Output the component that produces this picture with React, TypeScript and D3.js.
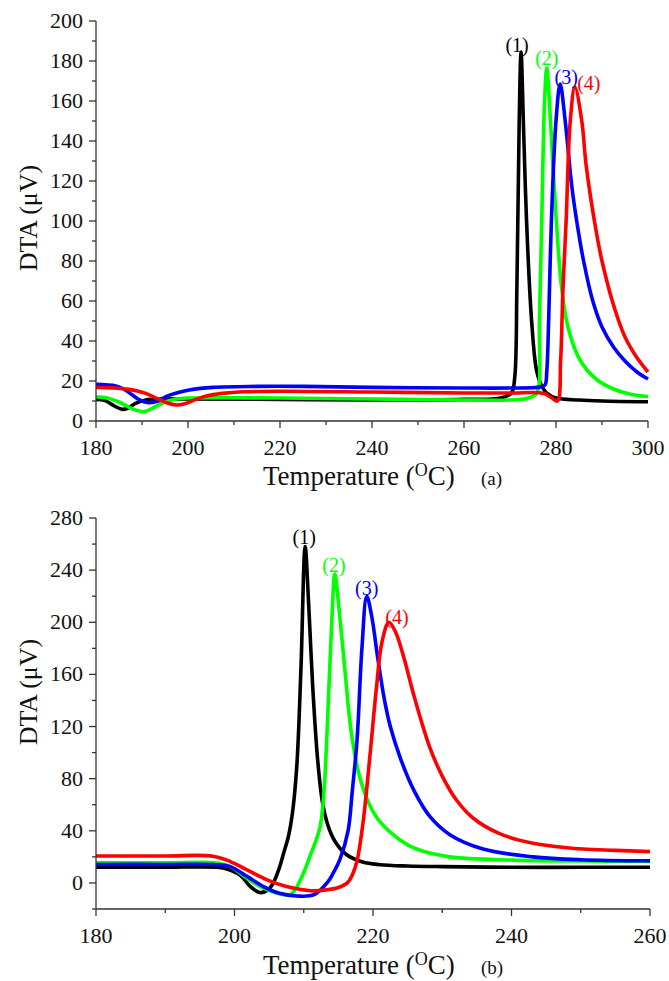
import React from 'react';
import * as d3 from 'd3';

// ---------- data ----------
const seriesLabels = ['(1)', '(2)', '(3)', '(4)'];
const seriesColors = ['#000000', '#00ff00', '#0000ff', '#ff0000'];

// panel (a) tick values
const tempMajorA = [180, 200, 220, 240, 260, 280, 300];
const tempMinorA = [190, 210, 230, 250, 270, 290];
const dtaMajorA = [0, 20, 40, 60, 80, 100, 120, 140, 160, 180, 200];
const dtaMinorA = [10, 30, 50, 70, 90, 110, 130, 150, 170, 190];

// panel (b) tick values
const tempMajorB = [180, 200, 220, 240, 260];
const tempMinorB = [190, 210, 230, 250];
const dtaMajorB = [0, 40, 80, 120, 160, 200, 240, 280];
const dtaMinorB = [-20, 20, 60, 100, 140, 180, 220, 260];

// panel (a) curves [temperature, DTA]
const curveA1: [number, number][] = [
  [180, 10.8], [182, 10.2], [184, 7.5], [185.7, 5.8], [187, 6.5], [188.6, 8.8], [190.8, 10.5],
  [194, 11], [200, 11], [220, 10.8], [240, 10.5], [260, 10.8], [268, 11.5], [270.3, 14],
  [271, 21], [271.5, 67], [272, 150], [272.4, 184.5], [272.9, 150], [273.6, 100], [274.7, 50],
  [275.8, 25], [277, 17], [278, 14], [280, 11.5], [285, 10.5], [290, 10], [300, 9.6],
];
const curveA2: [number, number][] = [
  [180, 12], [182, 11.8], [185, 9.5], [188, 6], [190.5, 4.7], [193, 7.3], [195, 9.5],
  [197.4, 11], [200, 11.5], [220, 11.5], [240, 11], [260, 10.5], [270, 10.5], [274, 11.5],
  [275.8, 14], [276.4, 50], [276.9, 100], [277.5, 159], [278, 176.5], [278.8, 150],
  [279.8, 110], [281.2, 67], [282.6, 47], [285.1, 31], [288.7, 21], [292.5, 16], [296, 13.5],
  [300, 12.2],
];
const curveA3: [number, number][] = [
  [180, 18.3], [184.3, 17.5], [186, 16], [187.9, 13], [189.5, 10.5], [191.5, 9.2], [193.5, 10],
  [195.2, 12.2], [197.5, 14], [200.3, 15.5], [205.4, 16.8], [215, 17.3], [225, 17.3], [240, 16.8],
  [260, 16.5], [270, 16.5], [276.5, 17], [277.6, 18], [278, 25], [278.4, 50], [279, 100],
  [280, 150], [280.9, 168.5], [282, 150], [283.4, 118], [284.5, 100], [286, 80], [288, 60],
  [290, 47], [292.5, 37], [295, 30], [297.6, 24.5], [300, 21],
];
const curveA4: [number, number][] = [
  [180, 16.8], [184, 16.5], [187.2, 15.8], [189, 15], [190.8, 13.8], [193.7, 10.8], [195.5, 9],
  [197.4, 8], [199.5, 8.8], [201.7, 10.8], [204, 12.5], [207.5, 13.8], [212, 14.6], [220, 14.9],
  [240, 14.5], [260, 14], [270, 14], [277.2, 13.9], [278.8, 12], [280.3, 10], [281, 30],
  [281.5, 65], [282.2, 100], [283.1, 150], [284.1, 167], [285.6, 150], [286.6, 127],
  [288.8, 94], [290, 80], [292.5, 58], [295, 42], [297.5, 32], [300, 24.5],
];

// panel (b) curves [temperature, DTA]
const curveB1: [number, number][] = [
  [180, 12], [190, 12], [197.5, 12], [199, 10.5], [200.8, 6], [202.3, -2.8], [203.7, -7.4],
  [204.9, -5], [205.6, 0], [206.5, 12], [207.1, 23], [207.8, 36], [208.4, 55], [209, 90],
  [209.6, 165], [210.2, 258], [210.7, 215], [211.3, 150], [212, 95], [212.7, 62], [213.5, 44],
  [214.5, 32], [216.1, 22], [218.5, 16], [221, 14], [225, 13], [230, 12.5], [240, 12], [250, 12],
  [260, 12],
];
const curveB2: [number, number][] = [
  [180, 15.5], [190, 15.5], [197.5, 15.3], [199.4, 12.5], [201.8, 3.6], [204.2, -4],
  [207.1, -9], [208.2, -8.5], [209, -3], [210, 8], [211, 22], [211.8, 33], [212.4, 44],
  [212.9, 68], [213.4, 120], [214, 195], [214.5, 237], [215.1, 210], [216, 160], [216.8, 118],
  [218, 83], [219.5, 60], [221, 47], [223.9, 33], [226.3, 26], [231.1, 20], [240.3, 17.5],
  [250, 16.8], [260, 16.4],
];
const curveB3: [number, number][] = [
  [180, 14.2], [190, 14.2], [197.5, 14], [199.4, 12.5], [201.8, 5], [204.2, -2.8],
  [206.5, -7.9], [209, -10], [211.5, -9], [213.5, 1], [214.3, 8], [215.2, 17.7], [216.4, 40],
  [217, 70], [217.7, 110], [218.4, 180], [219.1, 220], [219.8, 205], [220.7, 172], [221.6, 142],
  [222.5, 120], [224, 95], [226, 70], [228.2, 51], [231.1, 37], [235.9, 26], [243.1, 20],
  [250, 17.8], [260, 17],
];
const curveB4: [number, number][] = [
  [180, 20.7], [190, 20.7], [196.9, 20.5], [199.4, 16.4], [201.8, 10], [204.7, 2.3],
  [207.5, -2.8], [211, -6], [213, -5.5], [215, -3.5], [216.3, 0], [217, 6], [217.7, 17],
  [218.6, 48], [219.6, 100], [220.5, 150], [221.3, 185], [222.3, 200], [223.3, 192],
  [224.5, 172], [226, 142], [228.2, 104], [230, 82], [232, 64], [234.4, 50], [238.2, 38],
  [243.1, 30.5], [250.3, 26], [255, 25], [260, 24],
];

const seriesA = [curveA1, curveA2, curveA3, curveA4];
const seriesB = [curveB1, curveB2, curveB3, curveB4];

const FONT = "Liberation Serif, Times New Roman, serif";

type PanelProps = {
  series: [number, number][][];
  xDomain: [number, number];
  xRange: [number, number];
  yDomain: [number, number];
  yRange: [number, number];
  xMajor: number[];
  xMinor: number[];
  yMajor: number[];
  yMinor: number[];
  labelOffsets: [number, number][];
  tag: string;
  yTitleCenter: number;
  titleY: number;
};

function Panel(p: PanelProps) {
  const x = d3.scaleLinear().domain(p.xDomain).range(p.xRange);
  const y = d3.scaleLinear().domain(p.yDomain).range(p.yRange);
  const line = d3
    .line<[number, number]>()
    .x((d) => x(d[0]))
    .y((d) => y(d[1]))
    .curve(d3.curveCatmullRom.alpha(0.5));
  const x0 = p.xRange[0];
  const y0 = p.yRange[0];
  const axisColor = '#333';
  return (
    <g style={{ fontFamily: FONT }}>
      {p.series.map((s, i) => (
        <path key={i} d={line(s) || ''} fill="none" stroke={seriesColors[i]} strokeWidth={3.6} strokeLinejoin="round" />
      ))}
      {p.series.map((s, i) => {
        const peak = s.reduce((a, b) => (b[1] > a[1] ? b : a));
        return (
          <text
            key={'l' + i}
            x={x(peak[0]) + p.labelOffsets[i][0]}
            y={y(peak[1]) + p.labelOffsets[i][1]}
            fill={seriesColors[i]}
            style={{ fontFamily: FONT, fontSize: 20 }}
            textAnchor="middle"
          >
            {seriesLabels[i]}
          </text>
        );
      })}
      {/* axes */}
      <line x1={x0} x2={x0} y1={y0} y2={p.yRange[1]} stroke={axisColor} strokeWidth={1.3} />
      <line x1={x0} x2={p.xRange[1]} y1={y0} y2={y0} stroke={axisColor} strokeWidth={1.3} />
      {p.xMajor.map((t) => (
        <g key={'xm' + t}>
          <line x1={x(t)} x2={x(t)} y1={y0} y2={y0 + 7} stroke={axisColor} strokeWidth={1.3} />
          <text x={x(t)} y={y0 + 34} style={{ fontFamily: FONT, fontSize: 22 }} textAnchor="middle" fill="#111">
            {t}
          </text>
        </g>
      ))}
      {p.xMinor.map((t) => (
        <line key={'xn' + t} x1={x(t)} x2={x(t)} y1={y0} y2={y0 + 4} stroke={axisColor} strokeWidth={1.3} />
      ))}
      {p.yMajor.map((t) => (
        <g key={'ym' + t}>
          <line x1={x0 - 7} x2={x0} y1={y(t)} y2={y(t)} stroke={axisColor} strokeWidth={1.3} />
          <text x={x0 - 13} y={y(t) + 7} style={{ fontFamily: FONT, fontSize: 22 }} textAnchor="end" fill="#111">
            {t}
          </text>
        </g>
      ))}
      {p.yMinor.map((t) => (
        <line key={'yn' + t} x1={x0 - 4} x2={x0} y1={y(t)} y2={y(t)} stroke={axisColor} strokeWidth={1.3} />
      ))}
      {/* titles */}
      <text
        transform={`translate(37,${p.yTitleCenter}) rotate(-90)`}
        style={{ fontFamily: FONT, fontSize: 26 }}
        textAnchor="middle"
        fill="#111"
      >
        DTA (μV)
      </text>
      <text x={263} y={p.titleY} style={{ fontFamily: FONT, fontSize: 27 }} fill="#111">
        Temperature (<tspan style={{ fontSize: 18 }} dy={-9}>O</tspan>
        <tspan dy={9}>C)</tspan>
      </text>
      <text x={481} y={p.titleY} style={{ fontFamily: FONT, fontSize: 19 }} fill="#111">
        {p.tag}
      </text>
    </g>
  );
}

export default function App() {
  return (
    <svg
      width={669}
      height={981}
      style={{ position: 'absolute', left: 0, top: 0, background: '#fff', fontFamily: FONT }}
    >
      <rect width={669} height={981} fill="#fff" />
      <Panel
        series={seriesA}
        xDomain={[180, 300]}
        xRange={[96, 648]}
        yDomain={[0, 200]}
        yRange={[421, 21]}
        xMajor={tempMajorA}
        xMinor={tempMinorA}
        yMajor={dtaMajorA}
        yMinor={dtaMinorA}
        labelOffsets={[[-4, 0], [0, -3], [6, 0], [14, 3]]}
        tag="(a)"
        yTitleCenter={218}
        titleY={485}
      />
      <Panel
        series={seriesB}
        xDomain={[180, 260]}
        xRange={[96, 650]}
        yDomain={[-20, 280]}
        yRange={[909, 518]}
        xMajor={tempMajorB}
        xMinor={tempMinorB}
        yMajor={dtaMajorB}
        yMinor={dtaMinorB}
        labelOffsets={[[-1, -3], [-1, -2], [0, -1], [8, 2]]}
        tag="(b)"
        yTitleCenter={692}
        titleY={974}
      />
    </svg>
  );
}
